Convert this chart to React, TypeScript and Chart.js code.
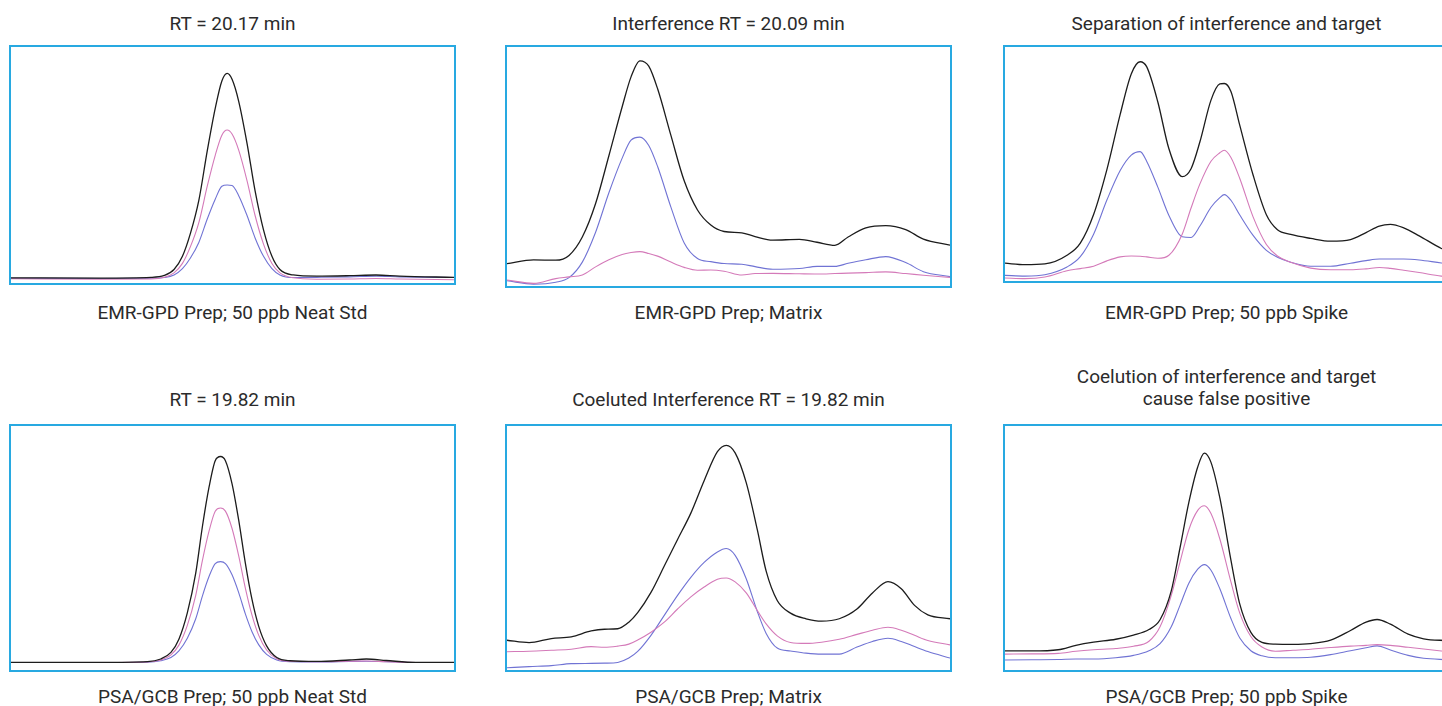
import React, { useEffect, useRef } from "react";
import { Chart, registerables } from "chart.js";

Chart.register(...registerables);

// ---------- DATA (x = relative retention position 0..100, y = relative response 0..100) ----------
const TITLES = [
  "RT = 20.17 min",
  "Interference RT = 20.09 min",
  "Separation of interference and target",
  "RT = 19.82 min",
  "Coeluted Interference RT = 19.82 min",
  "Coelution of interference and target\ncause false positive",
];

const CAPTIONS = [
  "EMR-GPD Prep; 50 ppb Neat Std",
  "EMR-GPD Prep; Matrix",
  "EMR-GPD Prep; 50 ppb Spike",
  "PSA/GCB Prep; 50 ppb Neat Std",
  "PSA/GCB Prep; Matrix",
  "PSA/GCB Prep; 50 ppb Spike",
];

// Panel 1: EMR-GPD neat standard
const P1_X = [0, 20.3, 31.6, 34.6, 36.8, 38.7, 40.5, 42.4, 44.3, 46.1, 47.6, 48.8, 49.9, 51.4, 53.3, 55.1, 57.0, 58.9, 60.7, 63.7, 69.0, 76.4, 82.4, 87.7, 100];
const P1_BLACK = [2.2, 2.1, 2.4, 3.2, 5.7, 11.3, 21, 35, 56, 74, 85.6, 88.8, 86.3, 77, 59, 39, 22.5, 11.3, 5.7, 3.4, 2.9, 3.1, 3.4, 2.9, 2.4];
const P1_PINK = [1.8, 1.6, 1.7, 2.4, 4.3, 8.3, 15.4, 25.6, 41, 54.1, 62.6, 64.8, 63.1, 56.3, 43.2, 28.6, 16.5, 8.3, 4.3, 2.2, 1.6, 1.7, 1.9, 1.7, 1.4];
const P1_BLUE = [2.0, 1.9, 2.0, 2.3, 3.4, 6.1, 10.6, 17.2, 27.1, 35.5, 41, 41.5, 41.3, 37, 28.5, 19.1, 11.3, 6.1, 3.4, 2.3, 2.4, 2.6, 2.9, 2.6, 2.3];

// Panel 2: EMR-GPD matrix
const P2_X = [0, 6, 11, 14, 17, 20, 23, 26, 28, 30, 32, 34, 37, 40, 43, 46, 49, 53, 56, 60, 66, 70, 74, 77, 81, 85.5, 90, 94, 100];
const P2_BLACK = [9.4, 10.9, 10.8, 12.8, 20.5, 34.5, 54.5, 75, 87.5, 94.2, 92, 82.5, 63, 44, 31.8, 25.5, 22.8, 22.2, 20.7, 19.2, 19.5, 18.3, 17.0, 20.5, 24.3, 25.3, 23.6, 19.6, 17.1];
const P2_PINK = [2.5, 1.1, 3.1, 3.8, 4.6, 8, 11, 13.2, 14, 14.4, 13.6, 12.5, 10, 7.8, 6.6, 6.7, 6.2, 4.6, 5.2, 5.3, 5.1, 5.0, 5.2, 5.4, 5.6, 5.9, 5.2, 4.5, 3.6];
const P2_BLUE = [2.2, 0.8, 1.6, 3.5, 10, 22.5, 39, 53.5, 61, 62.3, 58.8, 50, 33, 18, 11.5, 10.2, 9.4, 9.1, 8.1, 7.0, 7.3, 8.2, 8.2, 9.5, 11, 12.3, 9.8, 6, 3.9];

// Panel 3: EMR-GPD spike
const P3_X = [0, 4.5, 9, 14, 17, 20, 23, 26, 28.5, 30.5, 32, 34.5, 37, 40, 42, 44, 46.5, 48.5, 49.5, 51, 53, 56, 59, 61.5, 64.5, 69, 73.5, 78, 81.5, 84.5, 87, 90, 93.5, 98.5, 100];
const P3_BLACK = [7.6, 7.0, 7.3, 11, 16.2, 28.4, 47.6, 71.2, 88.5, 93.7, 91.5, 76.5, 56.5, 44.6, 48, 59.5, 77.3, 84.2, 84.4, 81, 66.5, 45.3, 28.3, 21.9, 19.9, 18.2, 17.0, 17.7, 20.7, 23.5, 24.2, 22.7, 19.3, 13.9, 12.8];
const P3_PINK = [1.3, 1.0, 1.7, 4.4, 5.3, 6.3, 8.6, 10.3, 10.7, 10.6, 10.3, 9.7, 11.0, 20, 31.2, 41.5, 51.2, 54.8, 55.9, 52.8, 43.8, 27.4, 15.6, 10.7, 8.0, 5.5, 4.8, 4.8, 5.2, 5.8, 5.4, 4.6, 3.6, 2.1, 1.8];
const P3_BLUE = [2.4, 2.1, 2.7, 6.0, 10.4, 20, 34.6, 47.2, 53.8, 55.3, 51.1, 40.1, 28, 18.9, 18.6, 23.5, 31.5, 35.6, 36.9, 34.5, 28.2, 19.5, 13.1, 10.1, 8.0, 6.3, 6.3, 7.6, 8.7, 9.4, 9.4, 9.4, 9.0, 7.7, 7.4];

// Panel 4: PSA/GCB neat standard
const P4_X = [0, 20.3, 30.8, 33.8, 36.1, 37.9, 39.8, 41.7, 43.2, 44.7, 46.1, 47.3, 48.4, 49.9, 51.4, 52.9, 54.4, 55.9, 57.7, 60.0, 63.0, 69.0, 76.4, 80.2, 84.7, 91.4, 100];
const P4_BLACK = [3.1, 3.1, 3.4, 4.5, 7.2, 12.6, 23.4, 39.7, 58.7, 74.9, 85.8, 87.5, 85.8, 76.3, 61.4, 43.8, 28.9, 18.0, 9.9, 5.1, 3.8, 3.5, 4.1, 4.5, 3.9, 3.1, 3.1];
const P4_PINK = [3.1, 3.1, 3.3, 4.1, 6.2, 10.2, 18.3, 30.6, 44.8, 56.9, 65.1, 66.4, 65.1, 58.0, 46.8, 33.6, 22.5, 14.3, 8.2, 4.6, 3.6, 3.4, 3.6, 3.7, 3.4, 3.1, 3.1];
const P4_BLUE = [3.1, 3.1, 3.2, 3.8, 5.1, 7.8, 13.0, 21.0, 30.3, 38.3, 43.6, 44.4, 43.6, 39.0, 31.7, 23.0, 15.7, 10.4, 6.4, 4.1, 3.4, 3.3, 3.5, 3.6, 3.4, 3.1, 3.1];

// Panel 5: PSA/GCB matrix
const P5_X = [0, 5, 10, 14.5, 19, 22, 25, 27.5, 29.5, 32.5, 35.5, 38.5, 41.5, 44.5, 47.5, 49.5, 51.5, 54, 56.5, 58.5, 61, 64, 67.5, 71, 75, 79, 82.5, 86, 89, 92, 95, 100];
const P5_BLACK = [12.2, 11.2, 12.9, 13.6, 16.0, 16.7, 16.9, 19.6, 23.5, 31.8, 42.6, 53.5, 64.3, 77.6, 89.5, 92.1, 89, 76.8, 57.5, 40.5, 28.5, 23.3, 21.0, 20.0, 21.0, 25, 31.6, 36.2, 33.3, 26.5, 22.6, 21.0];
const P5_PINK = [7.5, 7.7, 8.1, 8.5, 9.6, 9.3, 9.8, 10.6, 12.3, 15.5, 19.6, 25, 30, 34.0, 37.2, 37.7, 36.1, 31.6, 24.4, 18.9, 14, 11.3, 10.9, 11.4, 12.6, 14.6, 16.3, 17.5, 16.3, 14.2, 12.1, 10.3];
const P5_BLUE = [0.9, 1.4, 1.8, 2.6, 2.7, 2.8, 3.1, 4.9, 7.6, 14.2, 22.4, 30.6, 38, 44.1, 48.4, 49.8, 47, 37.4, 24, 15, 9.0, 7.8, 6.9, 6.5, 6.5, 9.4, 11.7, 13.0, 11.7, 9.6, 7.6, 4.9];

// Panel 6: PSA/GCB spike
const P6_X = [0, 6, 12, 16, 20, 25, 29, 32.5, 35, 37.5, 39.5, 41.5, 43.5, 45, 46.5, 48.5, 51, 53, 55.5, 58, 61, 65, 69, 73.5, 78, 81.5, 84, 87, 91, 94.5, 100];
const P6_BLACK = [7.8, 7.8, 8.3, 10.1, 11.4, 12.6, 14.3, 16.6, 20.6, 32.2, 50, 68.7, 83.2, 88.9, 85.1, 70.5, 45, 27, 15.4, 11.3, 10.6, 10.5, 10.8, 12.2, 16.2, 19.6, 20.7, 18.8, 14.7, 12.8, 12.0];
const P6_PINK = [6.5, 6.6, 6.8, 7.7, 8.3, 8.8, 9.7, 11.8, 17.7, 30.4, 44.2, 57.5, 65.4, 67.3, 64.1, 53.7, 36.1, 23.3, 13.7, 9.4, 7.7, 8.1, 8.5, 9.2, 9.8, 10.1, 10.4, 10.1, 9.3, 8.6, 7.5];
const P6_BLUE = [4.1, 4.2, 4.3, 4.5, 4.5, 5.0, 6.0, 7.9, 10.8, 17.6, 26.5, 35.6, 41.3, 43.2, 40.9, 33.3, 21.1, 13.1, 7.9, 5.8, 5.0, 5.0, 5.2, 6.3, 7.9, 9.1, 9.9, 8.2, 6.0, 4.8, 4.2];

// ---------- STYLE / LAYOUT ----------
const COLOR_BLACK = "#1c1c1c";
const COLOR_PINK = "#d47ab9";
const COLOR_BLUE = "#7073d4";
const BORDER_COLOR = "#28a9e1";
const TEXT_COLOR = "#2b2b2b";
const FONT = "Roboto, 'Noto Sans', sans-serif";

type Box = { left: number; top: number; w: number; h: number; titleTop: number; capTop: number };

const BOXES: Box[] = [
  { left: 9, top: 45, w: 447, h: 240, titleTop: 13.2, capTop: 301.5 },
  { left: 505, top: 45, w: 447, h: 243, titleTop: 13.2, capTop: 301.5 },
  { left: 1003, top: 45, w: 447, h: 238, titleTop: 13.2, capTop: 301.5 },
  { left: 9, top: 424, w: 447, h: 248, titleTop: 388.8, capTop: 685.8 },
  { left: 505, top: 424, w: 447, h: 248, titleTop: 388.8, capTop: 685.8 },
  { left: 1003, top: 424, w: 447, h: 248, titleTop: 365.8, capTop: 685.8 },
];

const PANEL_DATA = [
  { x: P1_X, black: P1_BLACK, pink: P1_PINK, blue: P1_BLUE },
  { x: P2_X, black: P2_BLACK, pink: P2_PINK, blue: P2_BLUE },
  { x: P3_X, black: P3_BLACK, pink: P3_PINK, blue: P3_BLUE },
  { x: P4_X, black: P4_BLACK, pink: P4_PINK, blue: P4_BLUE },
  { x: P5_X, black: P5_BLACK, pink: P5_PINK, blue: P5_BLUE },
  { x: P6_X, black: P6_BLACK, pink: P6_PINK, blue: P6_BLUE },
];

const BORDER = 2;

function Panel({ box, data }: { box: Box; data: (typeof PANEL_DATA)[number] }) {
  const ref = useRef<HTMLCanvasElement | null>(null);
  useEffect(() => {
    if (!ref.current) return;
    const pts = (ys: number[]) => data.x.map((x, i) => ({ x, y: ys[i] }));
    const ds = (ys: number[], color: string, width: number) => ({
      data: pts(ys),
      borderColor: color,
      borderWidth: width,
      pointRadius: 0,
      fill: false,
      cubicInterpolationMode: "monotone" as const,
    });
    const chart = new Chart(ref.current, {
      type: "line",
      data: {
        datasets: [
          ds(data.black, COLOR_BLACK, 1.3),
          ds(data.pink, COLOR_PINK, 1.1),
          ds(data.blue, COLOR_BLUE, 1.1),
        ],
      },
      options: {
        responsive: false,
        animation: false,
        events: [],
        layout: { padding: 0 },
        plugins: { legend: { display: false }, tooltip: { enabled: false }, title: { display: false } },
        scales: {
          x: { type: "linear", min: 0, max: 100, display: false },
          y: { type: "linear", min: 0, max: 100, display: false },
        },
      },
    });
    return () => chart.destroy();
  }, [box, data]);

  return (
    <div
      style={{
        position: "absolute",
        left: box.left,
        top: box.top,
        width: box.w,
        height: box.h,
        border: `${BORDER}px solid ${BORDER_COLOR}`,
        boxSizing: "border-box",
        background: "#fff",
      }}
    >
      <canvas
        ref={ref}
        width={box.w - 2 * BORDER}
        height={box.h - 2 * BORDER}
        style={{ position: "absolute", left: 0, top: 0, width: box.w - 2 * BORDER, height: box.h - 2 * BORDER }}
      />
    </div>
  );
}

function Label({ text, center, top }: { text: string; center: number; top: number }) {
  return (
    <div
      style={{
        position: "absolute",
        left: center - 220,
        width: 440,
        top,
        textAlign: "center",
        fontFamily: FONT,
        fontSize: 19,
        lineHeight: "22px",
        color: TEXT_COLOR,
        whiteSpace: "pre-line",
      }}
    >
      {text}
    </div>
  );
}

export default function App() {
  return (
    <div
      style={{
        position: "fixed",
        left: 0,
        top: 0,
        width: 1442,
        height: 706,
        overflow: "hidden",
        background: "#fff",
      }}
    >
      {BOXES.map((b, i) => (
        <React.Fragment key={i}>
          <Label text={TITLES[i]} center={b.left + b.w / 2} top={b.titleTop} />
          <Panel box={b} data={PANEL_DATA[i]} />
          <Label text={CAPTIONS[i]} center={b.left + b.w / 2} top={b.capTop} />
        </React.Fragment>
      ))}
    </div>
  );
}
